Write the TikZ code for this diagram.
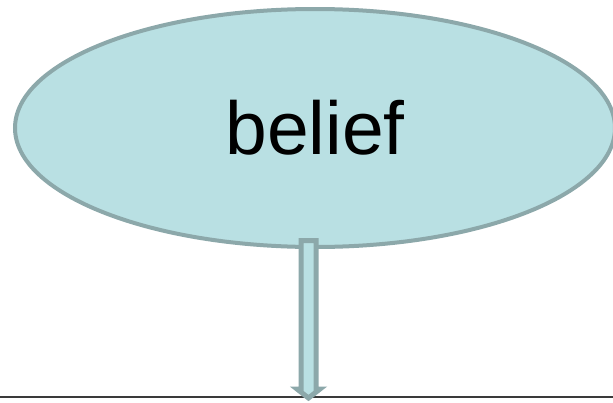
\documentclass[tikz,border=0pt]{standalone}
\usepackage{fontspec}
\setmainfont{Liberation Sans}
\usepackage{xcolor}
\usepackage{tikz}
\usetikzlibrary{shapes.geometric,calc}
\definecolor{bubblefill}{HTML}{B9E0E3}
\definecolor{bubbleedge}{HTML}{8CA8AA}
\definecolor{groundline}{HTML}{3A3A3A}
\tikzset{
  bubble/.style={ellipse, draw=bubbleedge, fill=bubblefill, line width=4pt,
    minimum width=600pt, minimum height=238pt, inner sep=0pt,
    font=\fontsize{75}{90}\selectfont},
  blockarrow/.style={draw=bubbleedge, fill=bubblefill, line width=5pt, line join=miter},
  ground/.style={groundline, line width=1.6pt},
}

\begin{document}
\begin{tikzpicture}[x=1pt,y=-1pt]
\useasboundingbox (0,0) rectangle (613,402);
\node[bubble] (belief) at (315,128) {belief};
\coordinate (gl) at (0,397);
\coordinate (gr) at (613,397);
\draw[ground] (gl) -- (gr);
% block arrow from the bubble down to the line
\coordinate (top) at (308.5,240.5);
\coordinate (tip) at (308.5,398);
\draw[blockarrow] ($(top)+(-7.5,0)$) -- ($(top)+(7.5,0)$) -- ($(tip)+(7.5,-9)$)
  -- ($(tip)+(11.5,-9)$) -- (tip) -- ($(tip)+(-11.5,-9)$) -- ($(tip)+(-7.5,-9)$) -- cycle;
\end{tikzpicture}
\end{document}
